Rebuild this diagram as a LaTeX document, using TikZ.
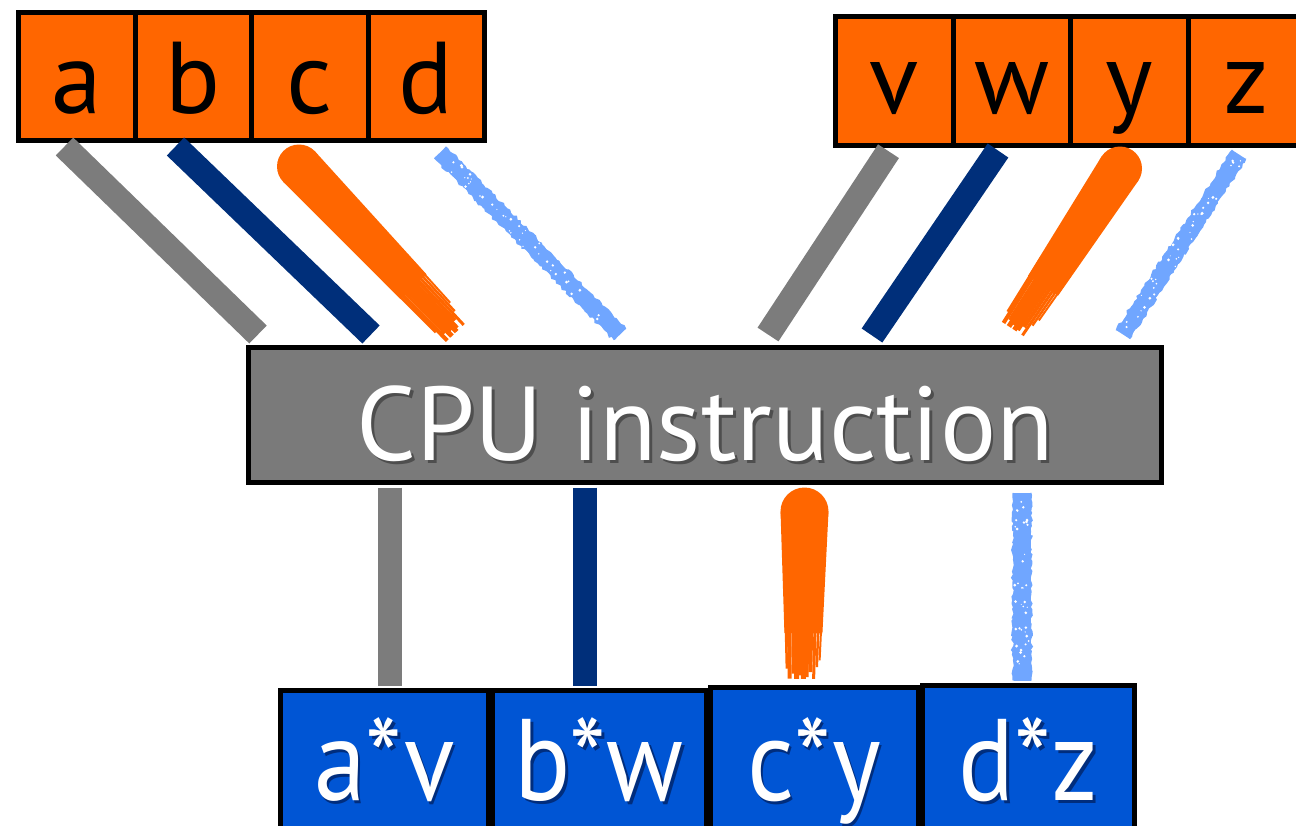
\documentclass[tikz,border=0pt]{standalone}
\usepackage{fontspec}
\setmainfont{PT Sans}
\usetikzlibrary{calc,decorations.pathmorphing}

\definecolor{boxorange}{RGB}{255,102,0}
\definecolor{linknavy}{RGB}{0,47,122}
\definecolor{linkgray}{RGB}{124,124,124}
\definecolor{chalkblue}{RGB}{112,166,255}
\definecolor{cpugray}{RGB}{122,122,122}
\definecolor{cpushade}{RGB}{78,78,78}
\definecolor{resultblue}{RGB}{0,85,212}
\definecolor{resultshade}{RGB}{0,45,125}

% white lettering with a dark offset copy behind it
\newcommand\softshadow[2]{\rlap{\kern3pt\raisebox{-3pt}{\textcolor{#1}{#2}}}#2}

% paint-brush stroke: round head at #1, bristly tail at #2
\newcommand\paintstroke[5]{%
  \fill[#5] (#1) circle (#3pt);
  \fill[#5] ($(#1)!#3pt!90:(#2)$) -- ($(#1)!0.72!(#2)!#4pt!90:(#2)$)
     -- ($(#1)!0.72!(#2)!#4pt!-90:(#2)$) -- ($(#1)!#3pt!-90:(#2)$) -- cycle;
  \foreach \ofs/\reach/\wd in {-0.95/0.93/2.5,-0.78/0.99/4,-0.58/0.96/3,-0.38/0.99/5,
      -0.18/0.97/4,0.02/0.99/5,0.22/0.98/3.5,0.42/0.95/4,0.62/0.99/3,0.8/0.92/2.5,0.96/0.88/2}{%
    \pgfmathsetmacro\offa{\ofs*#4}%
    \pgfmathsetmacro\offb{\ofs*0.9*#4}%
    \draw[#5, line width=\wd pt] ($(#1)!0.6!(#2)!\offa pt!90:(#2)$) -- ($(#1)!\reach!(#2)!\offb pt!90:(#2)$);
  }%
}

% chalky stroke with ragged edges and small gaps
\newcommand\chalkstroke[3]{%
  \pgfmathsetmacro\chalkcore{2*#3-3}%
  \pgfmathsetmacro\chalkedge{#3-2}%
  \draw[chalkblue, line width=\chalkcore pt] (#1) -- (#2);
  \draw[chalkblue, line width=3pt, decorate, decoration={random steps, segment length=3pt, amplitude=1.4pt}]
    ($(#1)!\chalkedge pt!90:(#2)$) -- ($(#2)!\chalkedge pt!-90:(#1)$);
  \draw[chalkblue, line width=3pt, decorate, decoration={random steps, segment length=3pt, amplitude=1.4pt}]
    ($(#1)!\chalkedge pt!-90:(#2)$) -- ($(#2)!\chalkedge pt!90:(#1)$);
  \foreach \k in {1,...,40}{%
    \pgfmathsetmacro\tpos{0.02+0.96*rnd}%
    \pgfmathsetmacro\ofs{(rnd-0.5)*1.6*#3}%
    \pgfmathsetmacro\rad{0.5+1.1*rnd}%
    \fill[white] ($(#1)!\tpos!(#2)!\ofs pt!90:(#2)$) circle (\rad pt);
  }%
}

\begin{document}
\begin{tikzpicture}[x=1pt,y=-1pt,
  inbox/.style={draw=black, line width=5pt, fill=boxorange, inner sep=0pt,
    minimum height=128pt, font=\fontsize{102}{102}\selectfont, text depth=0pt},
  cpubox/.style={draw=black, line width=5pt, fill=cpugray, inner sep=0pt, text=white,
    minimum width=913pt, minimum height=135pt, font=\fontsize{105}{105}\selectfont,
    text height=90pt, text depth=0pt},
  outbox/.style={draw=black, line width=5pt, fill=resultblue, inner sep=0pt, text=white,
    minimum height=160pt, font=\fontsize{116}{116}\selectfont, text depth=0pt},
  wire/.style={line width=25pt}]
\useasboundingbox (0,0) rectangle (1296,825);
\pgfmathsetseed{7}

% first operand vector
\node[inbox, minimum width=116.5pt, text height=73pt] (a) at (76.75,76.5) {a};
\node[inbox, minimum width=116.5pt, text height=73pt] (b) at (193.25,76.5) {b};
\node[inbox, minimum width=116.5pt, text height=73pt] (c) at (309.75,76.5) {c};
\node[inbox, minimum width=116.5pt, text height=73pt] (d) at (426.25,76.5) {d};

% second operand vector
\node[inbox, minimum width=117.5pt, minimum height=129pt, text height=64pt] (v) at (894.25,81) {v};
\node[inbox, minimum width=117.5pt, minimum height=129pt, text height=64pt] (w) at (1011.75,81) {w};
\node[inbox, minimum width=117.5pt, minimum height=129pt, text height=64pt] (y) at (1129.25,81) {y};
\node[inbox, minimum width=117.5pt, minimum height=129pt, text height=64pt] (z) at (1246.75,81) {z};

% the instruction
\node[cpubox] (cpu) at (705,415) {\softshadow{cpushade}{CPU instruction}};

% result vector
\node[outbox, minimum width=207.5pt, text height=59pt] (av) at (384.25,770.5) {\scalebox{0.9}[1]{\softshadow{resultshade}{a*v}}};
\node[outbox, minimum width=214pt, text height=59pt] (bw) at (599,770.5) {\scalebox{0.9}[1]{\softshadow{resultshade}{b*w}}};
\node[outbox, minimum width=208pt, text height=65pt] (cy) at (814,767.5) {\scalebox{0.9}[1]{\softshadow{resultshade}{c*y}}};
\node[outbox, minimum width=212.5pt, text height=69pt] (dz) at (1028.25,765.5) {\scalebox{0.9}[1]{\softshadow{resultshade}{d*z}}};

% lanes from the first vector
\draw[wire, linkgray] ($(a.south)+(-12.25,3.5)$) -- ($(cpu.north)+(-447,-10.5)$);
\draw[wire, linknavy] ($(b.south)+(-17.75,3.5)$) -- ($(cpu.north)+(-334,-10.5)$);
\coordinate (c-head) at ($(c.south)+(-10.75,23.5)$);
\coordinate (c-tail) at ($(cpu.north)+(-247,-11.5)$);
\paintstroke{c-head}{c-tail}{22}{18}{boxorange}
\coordinate (d-start) at ($(d.south)+(13.75,9.5)$);
\coordinate (d-end) at ($(cpu.north)+(-85,-10.5)$);
\chalkstroke{d-start}{d-end}{9}

% lanes from the second vector
\draw[wire, linkgray] ($(v.south)+(-5.75,3.2)$) -- ($(cpu.north)+(63,-10.5)$);
\draw[wire, linknavy] ($(w.south)+(-13.75,2.5)$) -- ($(cpu.north)+(167,-9.5)$);
\coordinate (y-head) at ($(y.south)+(-9.25,20.5)$);
\coordinate (y-tail) at ($(cpu.north)+(308,-13.5)$);
\paintstroke{y-head}{y-tail}{22}{18}{boxorange}
\coordinate (z-start) at ($(z.south)+(-7.75,6.5)$);
\coordinate (z-end) at ($(cpu.north)+(418,-10.5)$);
\chalkstroke{z-start}{z-end}{9}

% lanes into the result vector
\draw[wire, linkgray, line width=24pt] ($(cpu.south)+(-315,2.5)$) -- ($(av.north)+(5.75,-2.5)$);
\draw[wire, linknavy, line width=24pt] ($(cpu.south)+(-120,2.5)$) -- ($(bw.north)+(-14,-2.5)$);
\coordinate (cy-head) at ($(cpu.south)+(99.5,26.5)$);
\coordinate (cy-tail) at ($(cy.north)+(-11,-4.5)$);
\paintstroke{cy-head}{cy-tail}{24}{19}{boxorange}
\coordinate (dz-start) at ($(cpu.south)+(317,8)$);
\coordinate (dz-end) at ($(dz.north)+(-6.25,-2.5)$);
\chalkstroke{dz-start}{dz-end}{10}
\end{tikzpicture}
\end{document}
